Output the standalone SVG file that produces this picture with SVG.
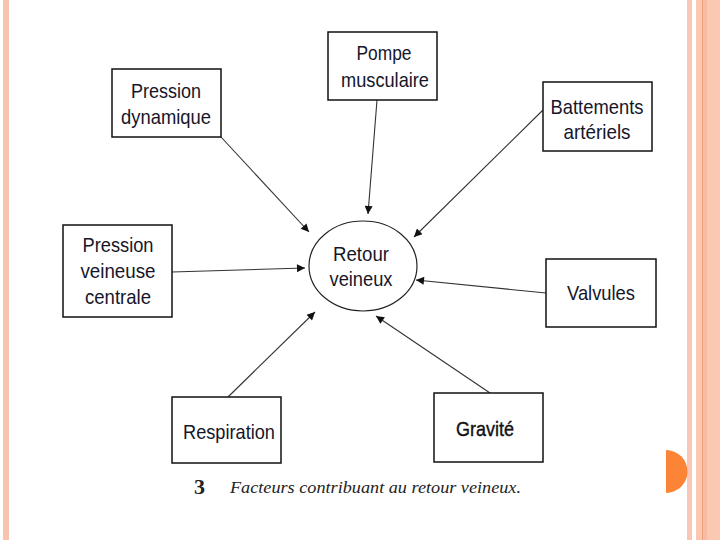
<svg xmlns="http://www.w3.org/2000/svg" width="720" height="540" viewBox="0 0 720 540">
<style>
.box{fill:#fff;stroke:#111;stroke-width:1.5}
.t{font-family:"Liberation Sans",Arial,sans-serif;font-size:21px;fill:#16162a;text-anchor:middle}
.c{stroke:#333;stroke-width:1.1;fill:none;marker-end:url(#ah)}
</style>
<defs>
<marker id="ah" viewBox="0 0 10 10" refX="10" refY="5" markerWidth="11" markerHeight="8" markerUnits="userSpaceOnUse" orient="auto">
<path d="M0,0 L10,5 L0,10 z" fill="#111"/>
</marker>
</defs>
<rect width="720" height="540" fill="#fff"/>
<rect x="3" y="0" width="6" height="540" fill="#f7c4b0"/>
<rect x="687" y="0" width="5" height="540" fill="#f9c8b4"/>
<rect x="696" y="0" width="24" height="540" fill="#fbc8b3"/>
<rect x="702" y="0" width="5" height="540" fill="#f8bca4"/>
<rect x="702" y="0" width="1" height="540" fill="#f0a078"/>
<path d="M666,450 A21,21 0 0 1 666,493 z" fill="#fb8436"/>
<g id="connectors">
<line class="c" x1="221" y1="137" x2="309" y2="232"/>
<line class="c" x1="377" y1="100" x2="368" y2="214"/>
<line class="c" x1="543" y1="110" x2="414" y2="237"/>
<line class="c" x1="172" y1="272" x2="305" y2="268"/>
<line class="c" x1="546" y1="293" x2="416" y2="280"/>
<line class="c" x1="228" y1="397" x2="315" y2="312"/>
<line class="c" x1="490" y1="393" x2="376" y2="316"/>
</g>
<g id="center">
<ellipse cx="363" cy="266" rx="54" ry="45" fill="#fff" stroke="#222" stroke-width="1.2"/>
<text class="t" x="361" y="261" textLength="56" lengthAdjust="spacingAndGlyphs">Retour</text>
<text class="t" x="361" y="286" textLength="63" lengthAdjust="spacingAndGlyphs">veineux</text>
</g>
<g id="pression-dynamique">
<rect class="box" x="112" y="69" width="109" height="68"/>
<text class="t" x="166" y="98" textLength="70" lengthAdjust="spacingAndGlyphs">Pression</text>
<text class="t" x="166" y="124" textLength="90" lengthAdjust="spacingAndGlyphs">dynamique</text>
</g>
<g id="pompe-musculaire">
<rect class="box" x="328" y="32" width="109" height="68"/>
<text class="t" x="384" y="60" textLength="55" lengthAdjust="spacingAndGlyphs">Pompe</text>
<text class="t" x="385" y="87" textLength="88" lengthAdjust="spacingAndGlyphs">musculaire</text>
</g>
<g id="battements-arteriels">
<rect class="box" x="543" y="82" width="109" height="69"/>
<text class="t" x="597" y="114" textLength="93" lengthAdjust="spacingAndGlyphs">Battements</text>
<text class="t" x="597" y="139" textLength="67" lengthAdjust="spacingAndGlyphs">artériels</text>
</g>
<g id="pression-veineuse-centrale">
<rect class="box" x="63" y="225" width="109" height="92"/>
<text class="t" x="118" y="252" textLength="71" lengthAdjust="spacingAndGlyphs">Pression</text>
<text class="t" x="118" y="278" textLength="75" lengthAdjust="spacingAndGlyphs">veineuse</text>
<text class="t" x="118" y="304" textLength="66" lengthAdjust="spacingAndGlyphs">centrale</text>
</g>
<g id="valvules">
<rect class="box" x="546" y="259" width="110" height="68"/>
<text class="t" x="601" y="300" textLength="68" lengthAdjust="spacingAndGlyphs">Valvules</text>
</g>
<g id="respiration">
<rect class="box" x="172" y="397" width="109" height="66"/>
<text class="t" x="229" y="439" textLength="92" lengthAdjust="spacingAndGlyphs">Respiration</text>
</g>
<g id="gravite">
<rect class="box" x="434" y="393" width="109" height="69" stroke-width="2"/>
<text class="t" x="485" y="436" textLength="58" lengthAdjust="spacingAndGlyphs" style="stroke:#111;stroke-width:0.4;fill:#111">Gravité</text>
</g>
<g id="caption">
<text x="194" y="494" style="font-family:'Liberation Serif','Times New Roman',serif;font-size:22px;font-weight:bold;fill:#222">3</text>
<text x="230" y="493" textLength="291" lengthAdjust="spacingAndGlyphs" style="font-family:'Liberation Serif','Times New Roman',serif;font-size:17px;font-style:italic;fill:#222">Facteurs contribuant au retour veineux.</text>
</g>
</svg>
